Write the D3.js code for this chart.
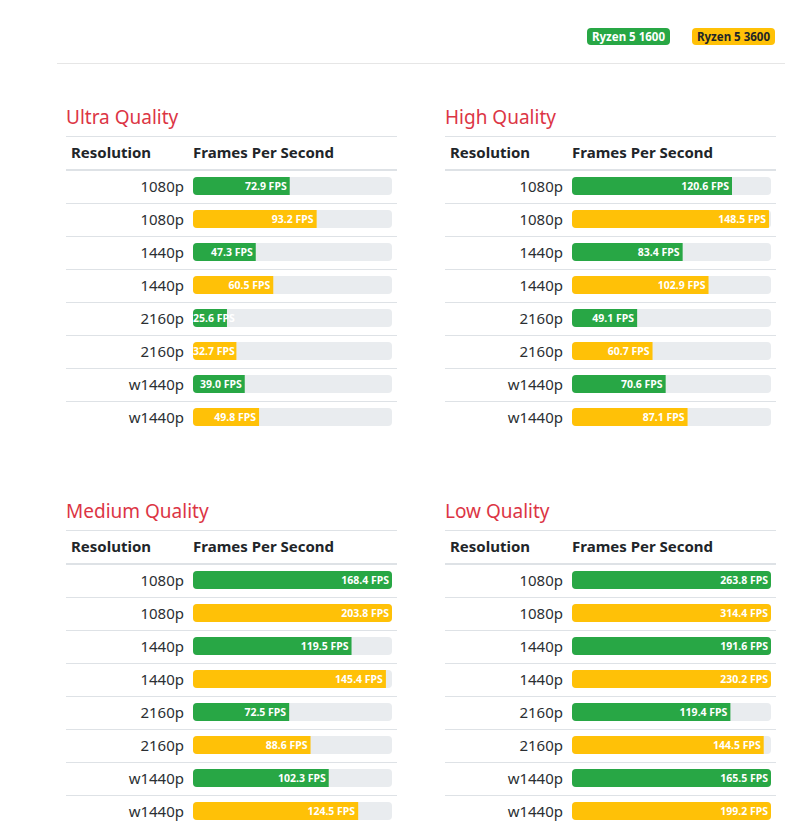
<!DOCTYPE html>
<html lang="en">
<head>
<meta charset="UTF-8" />
<title>Ryzen FPS</title>
<script src="https://d3js.org/d3.v7.min.js"></script>
<style>
  body { margin: 0; background: #fff; }
  svg { display: block; font-family: "Noto Sans", "Open Sans", sans-serif; }
  .title { fill: #dc3545; font-size: 19px; }
  .head { fill: #212529; font-size: 15px; font-weight: bold; }
  .res { fill: #2b2f33; font-size: 15px; }
  .fps { fill: #fff; font-size: 10.5px; font-weight: bold; }
</style>
</head>
<body>
<svg width="794" height="834"></svg>
<script>
  // Data
  const cpus = ["Ryzen 5 1600", "Ryzen 5 3600"];
  const qualities = ["Ultra Quality", "High Quality", "Medium Quality", "Low Quality"];
  const resolutions = ["1080p", "1440p", "2160p", "w1440p"];
  const ryzen1600 = [
    [72.9, 47.3, 25.6, 39.0],
    [120.6, 83.4, 49.1, 70.6],
    [168.4, 119.5, 72.5, 102.3],
    [263.8, 191.6, 119.4, 165.5]
  ];
  const ryzen3600 = [
    [93.2, 60.5, 32.7, 49.8],
    [148.5, 102.9, 60.7, 87.1],
    [203.8, 145.4, 88.6, 124.5],
    [314.4, 230.2, 144.5, 199.2]
  ];
  const fpsMax = 150;

  const colors = { "Ryzen 5 1600": "#28a745", "Ryzen 5 3600": "#ffc107" };
  const svg = d3.select("svg");

  // legend badges
  const legend = svg.append("g");
  const badgeX = d3.scaleOrdinal().domain(cpus).range([587, 692]);
  cpus.forEach((c) => {
    const g = legend.append("g").attr("transform", `translate(${badgeX(c)},28)`);
    const rect = g.append("rect").attr("height", 17).attr("rx", 4).attr("fill", colors[c]);
    const t = g.append("text").attr("x", 5).attr("y", 12.5)
      .attr("font-size", 11.5).attr("font-weight", "bold")
      .attr("fill", c === "Ryzen 5 1600" ? "#fff" : "#212529").text(c);
    rect.attr("width", t.node().getComputedTextLength() + 10);
  });
  svg.append("line").attr("x1", 57).attr("x2", 785).attr("y1", 63.5).attr("y2", 63.5)
    .attr("stroke", "#e6e6e6");

  // panels
  const tableW = 331, barX = 127, barW = 199, rowH = 33;
  const panelX = d3.scaleOrdinal().domain([0, 1]).range([66, 445]);
  const panelY = d3.scaleOrdinal().domain([0, 1]).range([100, 494]);
  const x = d3.scaleLinear().domain([0, fpsMax]).range([0, barW]).clamp(true);

  qualities.forEach((q, qi) => {
    const g = svg.append("g")
      .attr("transform", `translate(${panelX(qi % 2)},${panelY(Math.floor(qi / 2))})`);
    g.append("text").attr("class", "title").attr("y", 24).text(q);
    g.append("line").attr("x2", tableW).attr("y1", 36.5).attr("y2", 36.5).attr("stroke", "#dee2e6");
    g.append("text").attr("class", "head").attr("x", 5).attr("y", 58).text("Resolution");
    g.append("text").attr("class", "head").attr("x", barX).attr("y", 58).text("Frames Per Second");
    g.append("line").attr("x2", tableW).attr("y1", 70).attr("y2", 70).attr("stroke", "#dee2e6").attr("stroke-width", 2);

    const rows = [];
    resolutions.forEach((r, ri) => {
      rows.push({ res: r, cpu: cpus[0], v: ryzen1600[qi][ri] });
      rows.push({ res: r, cpu: cpus[1], v: ryzen3600[qi][ri] });
    });
    const y = d3.scaleBand().domain(d3.range(rows.length)).range([70, 70 + rows.length * rowH]);

    const row = g.selectAll(".row").data(rows).enter().append("g")
      .attr("transform", (d, i) => `translate(0,${y(i)})`);
    row.filter((d, i) => i > 0).append("line").attr("x2", tableW).attr("y1", 0.5).attr("y2", 0.5)
      .attr("stroke", "#dee2e6");
    row.append("text").attr("class", "res").attr("x", 118).attr("y", 22)
      .attr("text-anchor", "end").text((d) => d.res);
    row.append("rect").attr("x", barX).attr("y", 7).attr("width", barW).attr("height", 18)
      .attr("rx", 4).attr("fill", "#e9ecef");
    row.append("clipPath").attr("id", (d, i) => `c${qi}_${i}`)
      .append("rect").attr("x", barX).attr("y", 7).attr("width", barW).attr("height", 18).attr("rx", 4);
    row.append("rect").attr("clip-path", (d, i) => `url(#c${qi}_${i})`)
      .attr("x", barX).attr("y", 7).attr("width", (d) => x(d.v)).attr("height", 18)
      .attr("fill", (d) => colors[d.cpu]);
    row.append("text").attr("class", "fps").attr("y", 20).text((d) => d.v.toFixed(1) + " FPS")
      .each(function (d) {
        const w = this.getComputedTextLength();
        const end = Math.max(barX + x(d.v) - 3, barX + w);
        d3.select(this).attr("x", end).attr("text-anchor", "end");
      });
  });
</script>
</body>
</html>
